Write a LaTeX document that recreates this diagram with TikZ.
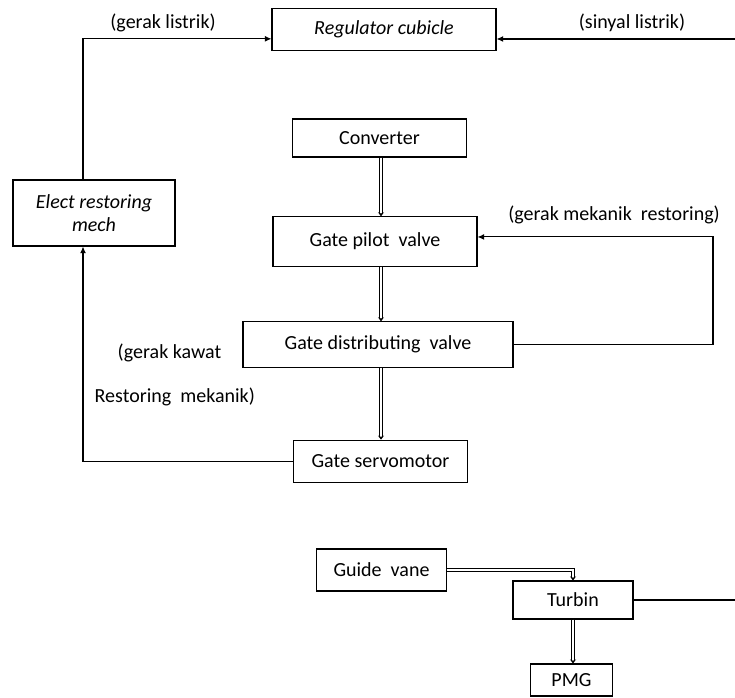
\documentclass[tikz,border=0pt]{standalone}
\usepackage{fontspec}
\setmainfont{Carlito}
\usepackage{tikz}
\usetikzlibrary{arrows.meta,calc,positioning}
\tikzstyle{arrow} = [line width=0.8pt, -{Latex[length=5pt,width=4.5pt]}]
\tikzstyle{dbl} = [line width=0.6pt, double, double distance=2pt, -{Stealth[length=3pt,width=4.5pt]}]

\begin{document}
\begin{tikzpicture}[x=0.75pt,y=-0.75pt,font=\fontsize{15}{17.5}\selectfont]
\tikzset{box/.style={draw,line width=0.8pt,inner sep=0pt,align=center}}
\useasboundingbox (0,0) rectangle (735,698);

% blok utama
\node[box,minimum width=168pt,minimum height=31pt] (reg) at (384,29.5) {\itshape Regulator cubicle};
\node[box,minimum width=130pt,minimum height=28.5pt] (conv) at (379.5,138) {Converter};
\node[box,minimum width=153pt,minimum height=37pt] (pilot) at (375,241.5) {Gate pilot\ \ valve};
\node[box,minimum width=202.5pt,minimum height=34pt] (dist) at (378,344.5) {Gate distributing\ \ valve};
\node[box,minimum width=131pt,minimum height=32pt] (servo) at (380.5,461.5) {Gate servomotor};
\node[box,minimum width=121.5pt,minimum height=49.5pt] (elect) at (94,213) {\itshape Elect restoring\\ \itshape mech};
\node[box,minimum width=97pt,minimum height=31.5pt] (guide) at (381.5,570) {Guide\ \ vane};
\node[box,minimum width=90pt,minimum height=28.5pt] (turbin) at (573,600) {Turbin};
\node[box,minimum width=61pt,minimum height=24pt] (pmg) at (571.5,680) {PMG};

% label
\node (lgl) at (163,23) {(gerak listrik)};
\node (lsl) at (632,23) {(sinyal listrik)};
\node (lgm) at (614,215) {(gerak mekanik\ \ restoring)};
\node[anchor=west] (lgk) at (113,353) {(gerak kawat};
\node[anchor=west] (lrm) at (90,397) {Restoring\ \ mekanik)};

\coordinate (lft) at (83,462);
\coordinate (sig) at (735,39);
\coordinate (fb) at (713,300);
\coordinate (mid) at (381,300);

% aliran sinyal
\draw[dbl] (conv.south -| mid) -- (pilot.north -| mid);
\draw[dbl] (pilot.south -| mid) -- (dist.north -| mid);
\draw[dbl] (dist.south -| mid) -- (servo.north -| mid);
\draw[dbl] (guide.east) -| (turbin.north);
\draw[dbl] (turbin.south) -- (turbin.south |- pmg.north);

\draw[arrow] (servo.west) -| (elect.south -| lft);
\draw[arrow] (elect.north -| lft) |- ([yshift=-7pt]reg.west);
\draw[arrow] (sig) -- (sig -| reg.east);
\draw[arrow] (dist.east) -| (fb) |- ([yshift=3.4pt]pilot.east);
\draw[line width=0.8pt] (turbin.east) -- (turbin.east -| sig);

\end{tikzpicture}
\end{document}
